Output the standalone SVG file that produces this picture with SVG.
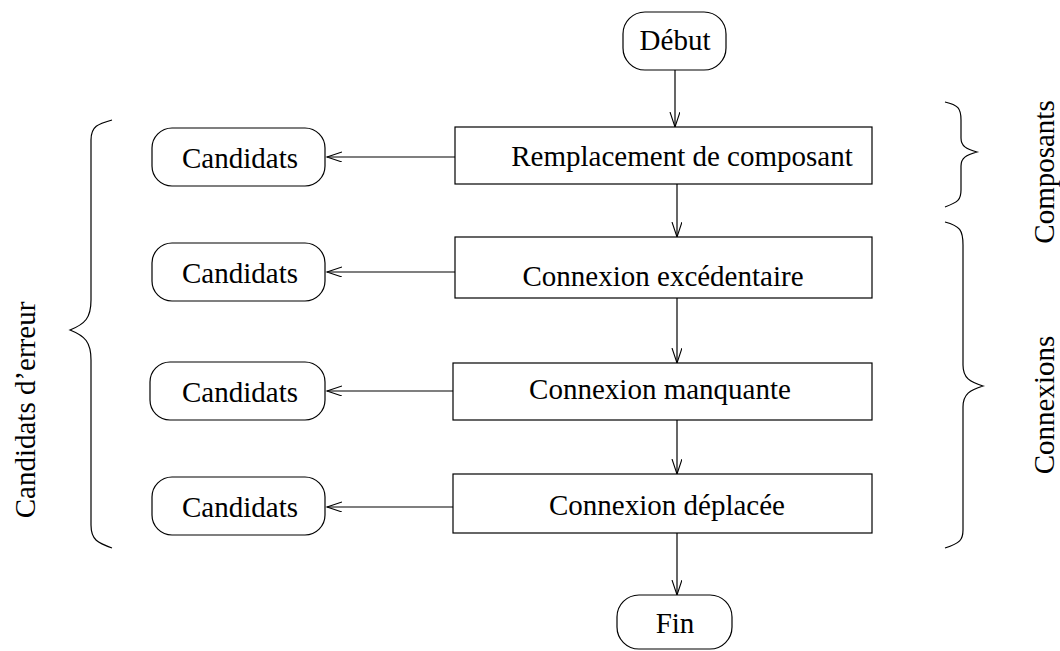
<svg xmlns="http://www.w3.org/2000/svg" width="1060" height="651" viewBox="0 0 1060 651">
<style>
.box{fill:#fff;stroke:#000;stroke-width:1.2}
.t{font-family:"Liberation Serif","Times New Roman",serif;font-size:29px;fill:#000;text-anchor:middle}
.c{fill:none;stroke:#000;stroke-width:1.2}
</style>
<defs>
<marker id="ah" markerUnits="userSpaceOnUse" markerWidth="18" markerHeight="12" refX="15" refY="5" orient="auto">
<path d="M0,0 L15,5 L0,10" fill="none" stroke="#000" stroke-width="1.1"/>
</marker>
</defs>
<rect width="1060" height="651" fill="#fff"/>
<g id="connectors">
<line class="c" x1="675" y1="70" x2="675" y2="127" marker-end="url(#ah)"/>
<line class="c" x1="677" y1="184" x2="677" y2="237" marker-end="url(#ah)"/>
<line class="c" x1="677" y1="298" x2="677" y2="363" marker-end="url(#ah)"/>
<line class="c" x1="677" y1="420" x2="677" y2="474" marker-end="url(#ah)"/>
<line class="c" x1="677" y1="533" x2="677" y2="595" marker-end="url(#ah)"/>
<line class="c" x1="455" y1="157" x2="327" y2="157" marker-end="url(#ah)"/>
<line class="c" x1="455" y1="272" x2="327" y2="272" marker-end="url(#ah)"/>
<line class="c" x1="453" y1="391" x2="327" y2="391" marker-end="url(#ah)"/>
<line class="c" x1="453" y1="507" x2="327" y2="507" marker-end="url(#ah)"/>
</g>
<g id="debut"><rect class="box" x="623" y="12" width="103" height="58" rx="22"/><text class="t" x="675" y="50">Début</text></g>
<g id="remplacement"><rect class="box" x="455" y="127" width="417" height="57"/><text class="t" x="682" y="166">Remplacement de composant</text></g>
<g id="excedentaire"><rect class="box" x="455" y="237" width="417" height="61"/><text class="t" x="663" y="286">Connexion excédentaire</text></g>
<g id="manquante"><rect class="box" x="453" y="363" width="419" height="57"/><text class="t" x="660" y="399">Connexion manquante</text></g>
<g id="deplacee"><rect class="box" x="453" y="474" width="419" height="59"/><text class="t" x="667" y="515">Connexion déplacée</text></g>
<g id="fin"><rect class="box" x="617" y="595" width="115" height="54" rx="22"/><text class="t" x="675" y="633">Fin</text></g>
<g id="cand1"><rect class="box" x="152" y="128" width="173" height="58" rx="20"/><text class="t" x="240" y="168">Candidats</text></g>
<g id="cand2"><rect class="box" x="152" y="243" width="173" height="58" rx="20"/><text class="t" x="240" y="283">Candidats</text></g>
<g id="cand3"><rect class="box" x="150" y="362" width="175" height="58" rx="20"/><text class="t" x="240" y="402">Candidats</text></g>
<g id="cand4"><rect class="box" x="152" y="477" width="173" height="58" rx="20"/><text class="t" x="240" y="517">Candidats</text></g>
<g id="brace-left">
<path class="c" d="M112,120 C98,124 91,126 91,140 L91,300 C91,318 85,324 70,330 C85,336 91,342 91,360 L91,525 C91,540 98,543 112,548"/>
<text class="t" transform="translate(35,410) rotate(-90)">Candidats d’erreur</text>
</g>
<g id="brace-composants">
<path class="c" d="M945,102 C958,105 961,108 961,120 L961,138 C961,146 966,149 977,152 C966,155 961,158 961,166 L961,190 C961,200 958,202 945,207"/>
<text class="t" transform="translate(1054,172) rotate(-90)">Composants</text>
</g>
<g id="brace-connexions">
<path class="c" d="M945,222 C960,226 963,230 963,245 L963,365 C963,378 970,382 983,386 C970,390 963,394 963,407 L963,530 C963,540 960,543 945,548"/>
<text class="t" transform="translate(1054,405) rotate(-90)">Connexions</text>
</g>
</svg>
